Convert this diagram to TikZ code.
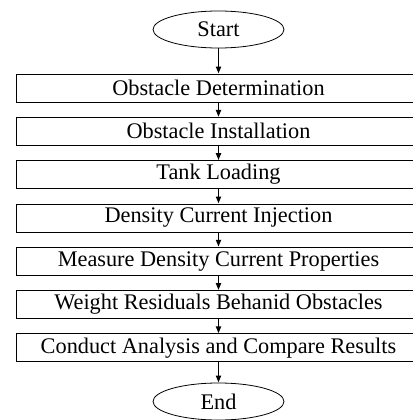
\documentclass[tikz,border=0pt]{standalone}
\usepackage{fontspec}
\setmainfont{Liberation Serif}
\usetikzlibrary{shapes.geometric,arrows.meta}
\begin{document}
\begin{tikzpicture}[x=1pt,y=-1pt,
    terminal/.style ={ellipse, draw, line width=0.8pt, minimum width=131pt, minimum height=37pt, inner sep=0pt},
    process/.style ={rectangle, draw, line width=0.8pt, minimum width=405pt, minimum height=28pt, inner sep=0pt},
    flow/.style ={line width=1.8pt, -{Triangle[length=7pt,width=5pt]}}]
   \useasboundingbox (0,0) rectangle (412,420);
   \fontsize{22.3}{26}\selectfont
   \node[terminal] (start) at (218.5,29.5)  {Start};
   \node[process] (P1) at (218.5,88)  {Obstacle Determination};
   \node[process] (P2) at (218.5,131.3)  {Obstacle Installation};
   \node[process] (P3) at (218.5,174.6)  {Tank Loading};
   \node[process] (P4) at (218.5,217.9)  {Density Current Injection};
   \node[process] (P5) at (218.5,261.2)  {Measure Density Current Properties};
   \node[process] (P6) at (218.5,304.5)  {Weight Residuals Behanid Obstacles};
   \node[process] (P7) at (218.5,347.8)  {Conduct Analysis and Compare Results};
   \node[terminal] (end) at (218.5,401.5)  {End};
   
   \draw[flow] (start) to  (P1);
   \draw[flow] (P1) to  (P2);
   \draw[flow] (P2) to  (P3);
   \draw[flow] (P3) to  (P4);
   \draw[flow] (P4) to  (P5);
   \draw[flow] (P5) to  (P6);
   \draw[flow] (P6) to  (P7);
   \draw[flow] (P7) to (end);
 \end{tikzpicture}
\end{document}
